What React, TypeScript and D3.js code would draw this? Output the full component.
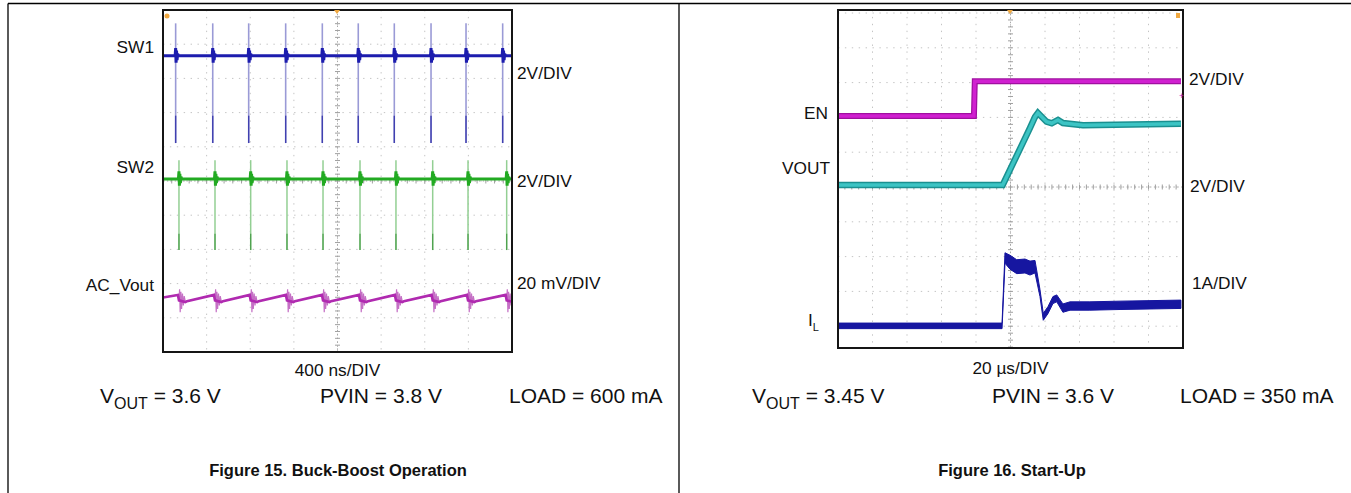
import React from "react";
import * as d3 from "d3";

// ---------- Figure 15: Buck-Boost Operation (400 ns/DIV) ----------
const sw1SpikeNs = [145, 570, 982, 1406, 1826, 2238, 2651, 3072, 3473, 3893];
const sw2SpikeNs = [183, 596, 1005, 1421, 1834, 2258, 2670, 3091, 3496, 3939];

// SW1 / SW2 in volts (2 V/DIV): baseline, spike top, spike bottom, dark tip start
const sw1Levels = [3.6, 5.5, -1.5, 0.1];
const sw2Levels = [3.6, 4.7, -0.56, 0.4];
// small ringing right after each edge (ns after spike, V around baseline)
const swRingNs = [0, 5, 10, 16, 23, 32];
const swRingV = [0.45, -0.4, 0.3, -0.25, 0.12, 0];

// AC_Vout ripple around each SW2 edge (ns offset, mV), 20 mV/DIV
const acRingNs = [-12, 0, 7, 14, 22, 30, 40, 50, 60, 74, 92];
const acRingMv = [1.2, -2, 4.5, -9, 3, -7, 2, -5, 0.5, -3, -2.5];

const f15Names = ["SW1", "SW2", "AC_Vout"];
const f15Scales = ["2V/DIV", "2V/DIV", "20 mV/DIV"];
const f15Footer = ["3.6 V", "3.8 V", "600 mA"];

// ---------- Figure 16: Start-Up (20 µs/DIV) ----------
const enTimesUs = [0, 78.8, 79.3, 198.8];
const enVolts = [0, 0, 2.0, 2.0];

const voutTimesUs = [0, 95.5, 111.3, 114.2, 115.9, 120.9, 123.9, 127.5, 130.4, 142, 198.8];
const voutVolts = [0, 0, 3.28, 3.91, 4.14, 3.64, 3.55, 3.74, 3.56, 3.43, 3.52];

const ilTimesUs = [0, 95.1, 96.8, 99.7, 103.6, 108.4, 111.3, 114.2, 117.1, 119, 121.7, 124.6, 126.8, 130.4, 134.5, 146, 163.5, 198.8];
const ilAmps = [0, 0, 1.95, 1.83, 1.7, 1.72, 1.66, 1.7, 0.94, 0.26, 0.45, 0.74, 0.79, 0.51, 0.57, 0.57, 0.59, 0.62];
const ilSpread = [0.08, 0.08, 0.15, 0.2, 0.2, 0.2, 0.2, 0.18, 0.1, 0.1, 0.1, 0.1, 0.1, 0.12, 0.12, 0.12, 0.12, 0.12];

const f16Names = ["EN", "VOUT", "I"];
const f16Scales = ["2V/DIV", "2V/DIV", "1A/DIV"];
const f16Footer = ["3.45 V", "3.6 V", "350 mA"];

const FONT = "Arial, 'Liberation Sans', Helvetica, sans-serif";

type Pt = [number, number];

const Graticule = ({ x, y, xMid, yMid, id }: any) => {
  const [xl, xr] = x.range();
  const [yb, yt] = y.range();
  const xs = x.ticks(10);
  const ys = d3.range(Math.ceil(y.domain()[0]), Math.floor(y.domain()[1]) + 1);
  const pxDiv = Math.abs(x(xs[1]) - x(xs[0]));
  const minorX = d3.range(xl, xr, pxDiv / 5);
  const pyDiv = Math.abs(y(1) - y(0));
  const minorY: number[] = [];
  for (let p = y(yMid); p > yt; p -= pyDiv / 5) minorY.push(p);
  for (let p = y(yMid) + pyDiv / 5; p < yb; p += pyDiv / 5) minorY.push(p);
  return (
    <g>
      {xs.map((t: number) => (
        <line key={"gx" + id + t} x1={x(t)} x2={x(t)} y1={yt} y2={yb} stroke="#c4c4c4" strokeWidth={1} strokeDasharray="1.4 5.5" />
      ))}
      {ys.map((d: number) => (
        <line key={"gy" + id + d} x1={xl} x2={xr} y1={y(d)} y2={y(d)} stroke="#c4c4c4" strokeWidth={1} strokeDasharray="1.4 5.5" />
      ))}
      <line x1={x(xMid)} x2={x(xMid)} y1={yt} y2={yb} stroke="#a8a8a8" strokeWidth={1} strokeDasharray="1.4 2.5" />
      <line x1={xl} x2={xr} y1={y(yMid)} y2={y(yMid)} stroke="#a8a8a8" strokeWidth={1} strokeDasharray="1.4 2.5" />
      {minorY.map((p, i) => (
        <line key={"my" + id + i} x1={x(xMid) - 2.5} x2={x(xMid) + 2.5} y1={p} y2={p} stroke="#a0a0a0" strokeWidth={1} />
      ))}
      {minorX.map((p: number, i: number) => (
        <line key={"mx" + id + i} x1={p} x2={p} y1={y(yMid) - 2.5} y2={y(yMid) + 2.5} stroke="#a0a0a0" strokeWidth={1} />
      ))}
    </g>
  );
};

const Sub = ({ x, y, main, sub, rest, size, subSize, anchor }: any) => (
  <text x={x} y={y} fontFamily={FONT} fontSize={size} textAnchor={anchor || "start"} fill="#111">
    {main}
    <tspan dy={size * 0.28} fontSize={subSize}>{sub}</tspan>
    {rest ? <tspan dy={-size * 0.28}>{rest}</tspan> : null}
  </text>
);

export default function App() {
  const W = 1351;
  const H = 493;
  const lab = 17.3;
  const foot = 21;

  // ---- left scope scales ----
  const x15 = d3.scaleLinear().domain([0, 4000]).range([163, 512]);
  const y15 = d3.scaleLinear().domain([-5, 5]).range([352, 10]);
  const sw1Off = 1.86; // ground position in divisions
  const sw2Off = -1.74;
  const acOff = -3.39;
  const sw1Y = (v: number) => y15(sw1Off + v / 2);
  const sw2Y = (v: number) => y15(sw2Off + v / 2);
  const acY = (mv: number) => y15(acOff + mv / 20);
  const line = d3.line<Pt>().x((d) => d[0]).y((d) => d[1]);

  const swBase = (times: number[], lv: number[], fy: (v: number) => number) => {
    const pts: Pt[] = [[x15(0), fy(lv[0])]];
    times.forEach((t) => {
      pts.push([x15(t - 6), fy(lv[0])]);
      swRingNs.forEach((dt, i) => pts.push([x15(t + dt), fy(lv[0] + swRingV[i])]));
    });
    pts.push([x15(4000), fy(lv[0])]);
    return line(pts) as string;
  };

  // full ripple (thin, light) and the slow ramp between bursts (thick, dark)
  const acPts: Pt[] = [[x15(0), acY(-0.3)]];
  const acBasePts: Pt[] = [[x15(0), acY(-0.3)]];
  const last = acRingNs.length - 1;
  sw2SpikeNs.forEach((t) => {
    acRingNs.forEach((dt, i) => acPts.push([x15(t + dt), acY(acRingMv[i])]));
    acBasePts.push([x15(t + acRingNs[0]), acY(acRingMv[0])]);
    acBasePts.push([x15(t + acRingNs[1]), acY(acRingMv[1])]);
    acBasePts.push([x15(t + acRingNs[last - 1]), acY(acRingMv[last - 1])]);
    acBasePts.push([x15(t + acRingNs[last]), acY(acRingMv[last])]);
  });
  acPts.push([x15(4100), acY(0)]);
  acBasePts.push([x15(4100), acY(0)]);

  // ---- right scope scales ----
  const x16 = d3.scaleLinear().domain([0, 200]).range([838, 1183]);
  const y16 = d3.scaleLinear().domain([(187 - 348) / 34.8, (187 - 10) / 34.8]).range([348, 10]);
  const enOff = 2.04;
  const voOff = 0.057;
  const ilOff = -3.99;
  const enPath = line(enTimesUs.map((t, i) => [x16(t), y16(enOff + enVolts[i] / 2)] as Pt)) as string;
  const voPath = line(voutTimesUs.map((t, i) => [x16(t), y16(voOff + voutVolts[i] / 2)] as Pt)) as string;
  const ilArea = d3
    .area<number>()
    .x((i) => x16(ilTimesUs[i]))
    .y0((i) => y16(ilOff + ilAmps[i] - ilSpread[i]))
    .y1((i) => y16(ilOff + ilAmps[i] + ilSpread[i]))(ilTimesUs.map((_, i) => i)) as string;

  return (
    <svg width={W} height={H} style={{ position: "absolute", left: 0, top: 0, background: "#fff" }}>
      <defs>
        <clipPath id="c15">
          <rect x={163} y={10} width={349} height={342} />
        </clipPath>
        <clipPath id="c16">
          <rect x={838} y={10} width={345} height={338} />
        </clipPath>
      </defs>

      {/* page table borders */}
      <line x1={8} x2={W} y1={3.5} y2={3.5} stroke="#000" strokeWidth={1.3} />
      <line x1={8} x2={8} y1={3.5} y2={H} stroke="#000" strokeWidth={1.3} />
      <line x1={679} x2={679} y1={3.5} y2={H} stroke="#000" strokeWidth={1.3} />

      {/* ================= Figure 15 ================= */}
      <Graticule x={x15} y={y15} xMid={2000} yMid={0} id="a" />
      <g clipPath="url(#c15)">
        {/* SW1 */}
        {sw1SpikeNs.map((t) => (
          <g key={"s1" + t}>
            <line x1={x15(t)} x2={x15(t)} y1={sw1Y(sw1Levels[1])} y2={sw1Y(sw1Levels[2])} stroke="#9a9ad6" strokeWidth={1.6} />
            <line x1={x15(t)} x2={x15(t)} y1={sw1Y(sw1Levels[3])} y2={sw1Y(sw1Levels[2])} stroke="#4040b0" strokeWidth={1.4} />
          </g>
        ))}
        <path d={swBase(sw1SpikeNs, sw1Levels, sw1Y)} fill="none" stroke="#1c1cae" strokeWidth={3} />
        {/* SW2 */}
        {sw2SpikeNs.map((t) => (
          <g key={"s2" + t}>
            <line x1={x15(t)} x2={x15(t)} y1={sw2Y(sw2Levels[1])} y2={sw2Y(sw2Levels[2])} stroke="#93cf93" strokeWidth={1.5} />
            <line x1={x15(t)} x2={x15(t)} y1={sw2Y(sw2Levels[3])} y2={sw2Y(sw2Levels[2])} stroke="#4a9e4a" strokeWidth={1.2} />
          </g>
        ))}
        <path d={swBase(sw2SpikeNs, sw2Levels, sw2Y)} fill="none" stroke="#22aa22" strokeWidth={3} />
        {/* AC_Vout */}
        <path d={line(acPts) as string} fill="none" stroke="#c570c5" strokeWidth={1.2} />
        <path d={line(acBasePts) as string} fill="none" stroke="#b02ab0" strokeWidth={2.6} />
      </g>
      <rect x={163} y={10} width={349} height={342} fill="none" stroke="#151515" strokeWidth={2} />
      <circle cx={167} cy={16} r={2.5} fill="#f0a840" />
      <path d="M334,10 L340,10 L337,14 Z" fill="#f0a840" />

      {f15Names.map((n, i) => (
        <text key={n} x={154} y={[53, 173, 291][i]} fontFamily={FONT} fontSize={lab} textAnchor="end" fill="#111">
          {n}
        </text>
      ))}
      {f15Scales.map((s, i) => (
        <text key={"sc" + i} x={517} y={[79, 187, 289][i]} fontFamily={FONT} fontSize={lab} fill="#111">
          {s}
        </text>
      ))}
      <text x={337.5} y={376} fontFamily={FONT} fontSize={lab} textAnchor="middle" fill="#111">
        400 ns/DIV
      </text>
      <Sub x={100} y={403} main="V" sub="OUT" rest={" = " + f15Footer[0]} size={foot} subSize={16} />
      <text x={320} y={403} fontFamily={FONT} fontSize={foot} fill="#111">{"PVIN = " + f15Footer[1]}</text>
      <text x={509} y={403} fontFamily={FONT} fontSize={foot} fill="#111">{"LOAD = " + f15Footer[2]}</text>
      <text x={338} y={476} fontFamily={FONT} fontSize={16.5} fontWeight="bold" textAnchor="middle" fill="#111">
        Figure 15. Buck-Boost Operation
      </text>

      {/* ================= Figure 16 ================= */}
      <Graticule x={x16} y={y16} xMid={100} yMid={0} id="b" />
      <g clipPath="url(#c16)">
        <path d={enPath} fill="none" stroke="#a010a0" strokeWidth={6} />
        <path d={enPath} fill="none" stroke="#d020d0" strokeWidth={3.5} />
        <path d={voPath} fill="none" stroke="#1a9090" strokeWidth={6.5} />
        <path d={voPath} fill="none" stroke="#3cc4c4" strokeWidth={3.5} />
        <path d={ilArea} fill="#1616a0" stroke="#1616a0" strokeWidth={1} />
      </g>
      <rect x={838} y={10} width={345} height={338} fill="none" stroke="#151515" strokeWidth={2} />
      <rect x={1176} y={13} width={4} height={5} fill="#f0a840" />
      <path d="M1007,10 L1013,10 L1010,14 Z" fill="#f0a840" />
      <text x={1179} y={99} fontFamily={FONT} fontSize={9} fill="#b020b0">+</text>

      <text x={828} y={119} fontFamily={FONT} fontSize={lab} textAnchor="end" fill="#111">{f16Names[0]}</text>
      <text x={830} y={174} fontFamily={FONT} fontSize={lab} textAnchor="end" fill="#111">{f16Names[1]}</text>
      <Sub x={808} y={326} main={f16Names[2]} sub="L" size={lab} subSize={11} />
      {f16Scales.map((s, i) => (
        <text key={"sd" + i} x={[1189, 1190, 1192][i]} y={[85, 192, 289][i]} fontFamily={FONT} fontSize={lab} fill="#111">
          {s}
        </text>
      ))}
      <text x={1010.5} y={374} fontFamily={FONT} fontSize={lab} textAnchor="middle" fill="#111">
        20 µs/DIV
      </text>
      <Sub x={752} y={403} main="V" sub="OUT" rest={" = " + f16Footer[0]} size={foot} subSize={16} />
      <text x={992} y={403} fontFamily={FONT} fontSize={foot} fill="#111">{"PVIN = " + f16Footer[1]}</text>
      <text x={1180} y={403} fontFamily={FONT} fontSize={foot} fill="#111">{"LOAD = " + f16Footer[2]}</text>
      <text x={1012} y={476} fontFamily={FONT} fontSize={16.5} fontWeight="bold" textAnchor="middle" fill="#111">
        Figure 16. Start-Up
      </text>
    </svg>
  );
}
